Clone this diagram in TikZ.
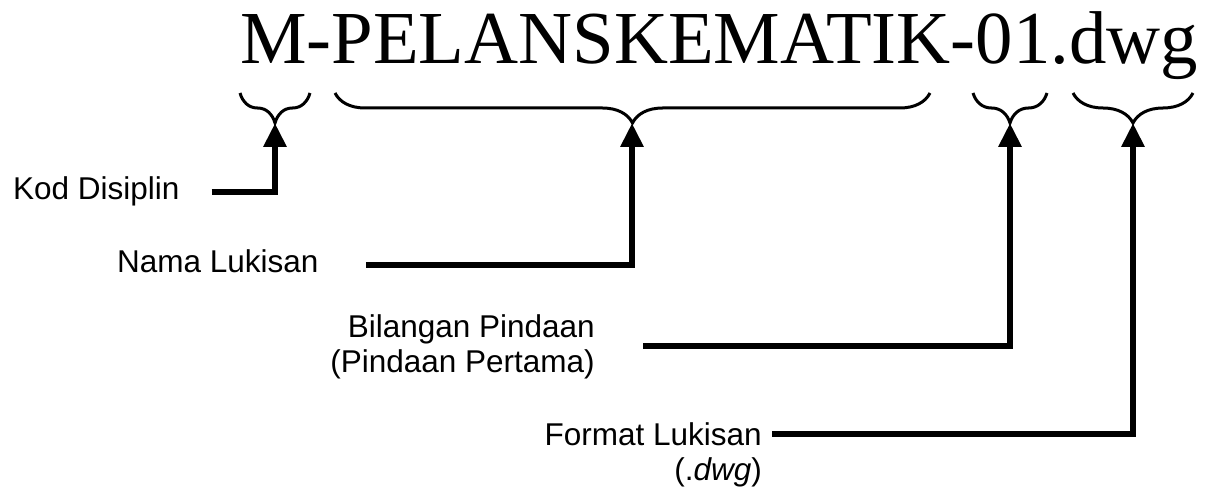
\documentclass[tikz,border=0pt]{standalone}
\usepackage{fontspec}
\setmainfont{Liberation Serif}
\newfontfamily\labelfont{Liberation Sans}
\usetikzlibrary{arrows.meta,decorations.pathreplacing}

\begin{document}
\begin{tikzpicture}[x = 1pt, y = -1pt,
	label text/.style = {font = \labelfont\fontsize{31.5}{35}\selectfont, inner sep = 0pt},
	pointer/.style = {line width = 6pt, line join = miter, -{Triangle[width = 22pt, length = 24pt]}},
	curly/.style = {line width = 3pt, decorate, decoration = {brace, mirror, amplitude = 30pt}}]
	\useasboundingbox (0,0) rectangle (1219,489);
	\node[anchor = base west, inner sep = 0pt, font = \fontsize{74.8}{80}\selectfont] (filename) at (240,64) {M-PELANSKEMATIK-01.dwg};
	% braces under the file name
	\draw[curly] (240,93) -- (310,93);
	\draw[curly] (335,93) -- (930,93);
	\draw[curly] (973,93) -- (1047,93);
	\draw[curly] (1073,93) -- (1193,93);
	\coordinate (kodtip) at (275,123);
	\coordinate (namatip) at (632,123);
	\coordinate (bilangantip) at (1010,123);
	\coordinate (formattip) at (1133,123);
	% labels
	\node[label text, anchor = base west] (kod) at (13,200) {Kod Disiplin};
	\node[label text, anchor = base west] (nama) at (117,273) {Nama Lukisan};
	\node[label text, anchor = base east, align = right] (bilangan) at (595,372) {Bilangan Pindaan\\(Pindaan Pertama)};
	\node[label text, anchor = base east, align = right] (format) at (762,480) {Format Lukisan\\(.\textit{dwg})};
	% pointers
	\draw[pointer] ([xshift = 32pt]kod.east) -| (kodtip);
	\draw[pointer] ([xshift = 47pt, yshift = -3.5pt]nama.east) -| (namatip);
	\draw[pointer] ([xshift = 48pt]bilangan.east) -| (bilangantip);
	\draw[pointer] ([xshift = 10pt, yshift = 20pt]format.east) -| (formattip);
\end{tikzpicture}
\end{document}
